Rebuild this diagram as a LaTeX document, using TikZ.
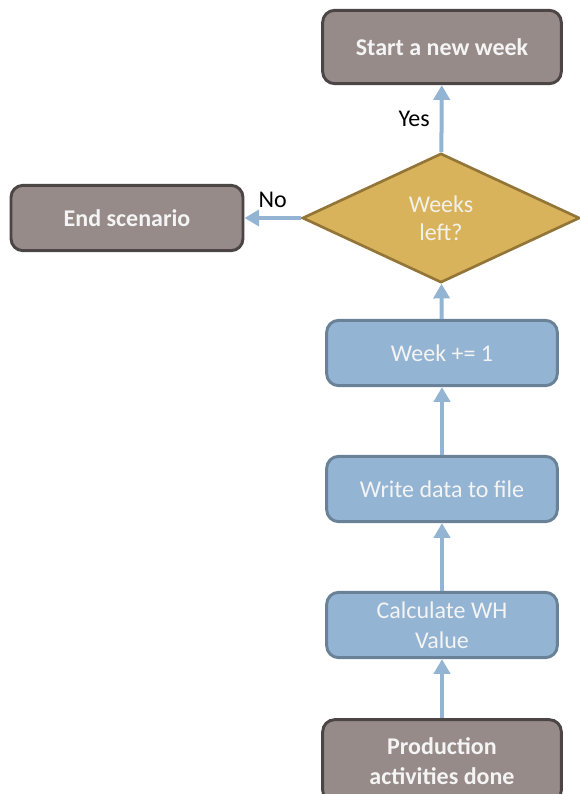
\documentclass[tikz,border=0pt]{standalone}
\usepackage{fontspec}
\setmainfont{Carlito}
\usepackage{tikz}
\usetikzlibrary{arrows.meta,positioning,shapes.geometric}
\definecolor{stepblue}{HTML}{93B4D3}
\definecolor{stepedge}{HTML}{6A8298}
\definecolor{termgray}{HTML}{968B89}
\definecolor{termedge}{HTML}{4B4546}
\definecolor{askgold}{HTML}{D8B35C}
\definecolor{askedge}{HTML}{927537}
\definecolor{lighttext}{HTML}{F4F4F4}

\begin{document}
\begin{tikzpicture}[x=0.75pt,y=-0.75pt,
  stepbox/.style={draw=stepedge,fill=stepblue,line width=2.2pt,rounded corners=9pt,
    minimum width=173pt,minimum height=49pt,align=center,text=lighttext,
    font=\fontsize{18}{22.5}\selectfont},
  termbox/.style={draw=termedge,fill=termgray,line width=2.2pt,rounded corners=9pt,
    minimum width=179pt,minimum height=55pt,align=center,text=lighttext,
    font=\fontsize{18}{22.5}\selectfont\bfseries},
  askbox/.style={diamond,draw=askedge,fill=askgold,line width=2pt,inner sep=0pt,
    aspect=2,minimum width=208pt,minimum height=97pt,align=center,
    text=lighttext!95!askgold,font=\fontsize{18}{21}\selectfont},
  arr/.style={-{Triangle[length=11pt,width=12pt]},line width=3pt,stepblue},
  lbl/.style={font=\fontsize{18}{20}\selectfont,text=black}
]
  \useasboundingbox (0,0) rectangle (580,794);
  \clip (0,0) rectangle (580,794);

  \node[termbox] (start) at (442,47) {Start a new week};
  \node[askbox] (weeks) at (441,218) {Weeks\\left?};
  \node[termbox,minimum width=174pt,minimum height=49pt] (endsc) at (127,218)
    {End scenario};
  \node[stepbox] (incr) at (442,353) {Week += 1};
  \node[stepbox] (write) at (442,489) {Write data to file};
  \node[stepbox] (calc) at (442,625) {Calculate WH\\Value};
  \node[termbox,minimum height=62pt] (prod) at (442,761)
    {Production\\activities done};

  \draw[arr] (prod) -- (calc);
  \draw[arr] (calc) -- (write);
  \draw[arr] (write) -- (incr);
  \draw[arr] (incr) -- (weeks);
  \draw[arr] (weeks) -- node[lbl,left=4pt] {Yes} (start);
  \draw[arr] (weeks) -- node[lbl,above=3pt] {No} (endsc);
\end{tikzpicture}
\end{document}
